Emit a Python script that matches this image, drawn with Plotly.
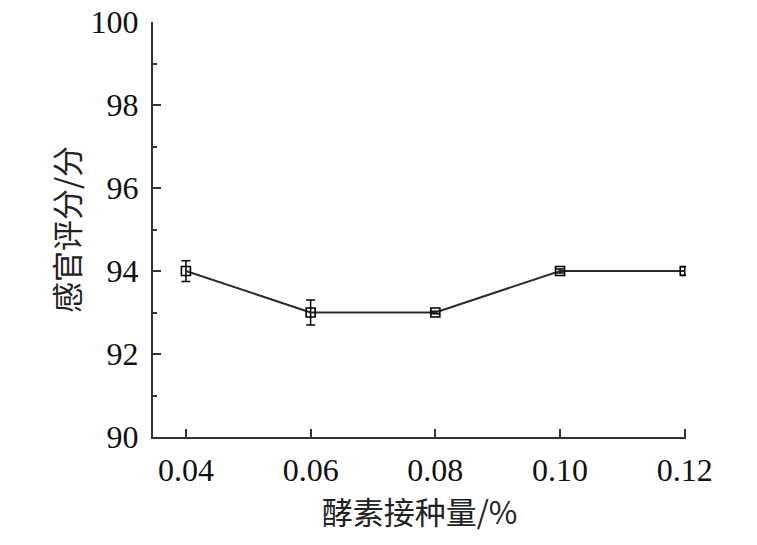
import plotly.graph_objects as go

doses = [0.04, 0.06, 0.08, 0.10, 0.12]
scores = [94.0, 93.0, 93.0, 94.0, 94.0]
errors = [0.25, 0.3, 0.03, 0.05, 0.1]
x_tick_labels = ["0.04", "0.06", "0.08", "0.10", "0.12"]
y_ticks = [90, 92, 94, 96, 98, 100]

num_font = "Liberation Serif, Times New Roman, serif"
cjk_font = "Noto Sans CJK SC"

fig = go.Figure()
fig.add_trace(go.Scatter(
    x=doses, y=scores, mode="lines+markers",
    line=dict(color="#2a2a2a", width=2),
    marker=dict(symbol="square-open", size=9, color="black", line=dict(width=1.6, color="black")),
    error_y=dict(type="data", array=errors, visible=True, color="black", thickness=1.5, width=4.5),
    showlegend=False,
))

# page body has an 8px default margin, so margins are shifted by 8px
fig.update_layout(
    width=757, height=545,
    margin=dict(l=145, r=79, t=14, b=116),
    paper_bgcolor="white", plot_bgcolor="white",
    xaxis=dict(
        range=[0.03472, 0.1202],
        tickvals=doses, ticktext=x_tick_labels,
        ticks="inside", ticklen=8, tickwidth=1.5, tickcolor="#333",
        showline=True, linecolor="#333", linewidth=2,
        showgrid=False, zeroline=False,
        tickfont=dict(family=num_font, size=32, color="#111"),
        ticklabelstandoff=4, ticklabeloverflow="allow",
        automargin="height",
        title=dict(text="酵素接种量/%", font=dict(family=cjk_font, size=31, color="#222"), standoff=8),
    ),
    yaxis=dict(
        range=[90, 100.0001],
        tickvals=y_ticks,
        ticks="inside", ticklen=8, tickwidth=1.5, tickcolor="#333",
        minor=dict(ticks="inside", dtick=1, ticklen=4, tickwidth=1.5, tickcolor="#333"),
        showline=True, linecolor="#333", linewidth=2,
        showgrid=False, zeroline=False,
        tickfont=dict(family=num_font, size=32, color="#111"),
        ticklabelstandoff=6, ticklabeloverflow="allow",
        automargin="width",
        title=dict(text="感官评分/分", font=dict(family=cjk_font, size=31, color="#222"), standoff=2),
    ),
)

fig.write_html("out.html")
